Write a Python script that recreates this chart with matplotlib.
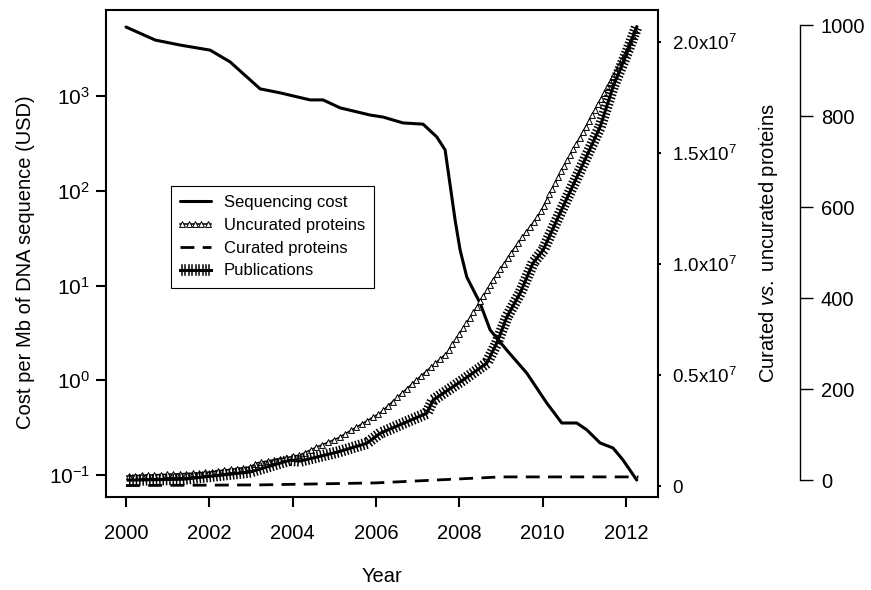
# Custo de sequenciamento vs. proteínas e publicações (eixos múltiplos)
import numpy as np
import matplotlib

matplotlib.use("Agg")
import matplotlib.pyplot as plt
from matplotlib import patheffects
from matplotlib.markers import MarkerStyle
from matplotlib.path import Path
from matplotlib.ticker import FixedLocator, NullLocator
from matplotlib.transforms import Affine2D, IdentityTransform

plt.rcParams["font.family"] = ["Liberation Sans", "DejaVu Sans"]
plt.rcParams["mathtext.fontset"] = "custom"
plt.rcParams["mathtext.rm"] = "Liberation Sans"
plt.rcParams["mathtext.it"] = "Liberation Sans:italic"
plt.rcParams["font.size"] = 14.5

# --- dados ---
cost_years = [2000.00, 2000.70, 2001.30, 2002.02, 2002.50, 2003.22, 2003.70, 2004.42,
              2004.73, 2005.14, 2005.86, 2006.17, 2006.65, 2007.13, 2007.46, 2007.66,
              2007.78, 2007.90, 2008.02, 2008.18, 2008.50, 2008.74, 2009.14, 2009.62,
              2010.10, 2010.46, 2010.82, 2011.06, 2011.38, 2011.69, 2011.93, 2012.26]
cost_usd = [5350, 3900, 3450, 3050, 2290, 1190, 1080, 910,
            910, 750, 630, 600, 520, 505, 370, 270,
            115, 49, 23.7, 12.3, 6.5, 3.4, 2.08, 1.19,
            0.575, 0.354, 0.354, 0.30, 0.218, 0.193, 0.144, 0.0885]

uncur_years = [2000.02, 2001.78, 2002.02, 2002.98, 2003.14, 2003.94, 2004.18, 2004.58,
               2005.09, 2006.10, 2006.89, 2007.70, 2008.42, 2008.81, 2009.29, 2009.94,
               2010.42, 2010.90, 2011.38, 2011.78, 2012.17, 2012.26]
uncur_prot = [0.045e7, 0.059e7, 0.063e7, 0.086e7, 0.104e7, 0.131e7, 0.140e7, 0.176e7,
              0.216e7, 0.329e7, 0.464e7, 0.599e7, 0.806e7, 0.928e7, 1.063e7, 1.230e7,
              1.410e7, 1.572e7, 1.739e7, 1.874e7, 2.023e7, 2.068e7]

cur_years = [2000.0, 2003.2, 2006.0, 2008.0, 2009.0, 2012.3]
cur_prot = [0.002e7, 0.005e7, 0.014e7, 0.032e7, 0.041e7, 0.041e7]

pub_years = [2000.05, 2001.37, 2002.98, 2003.94, 2004.18, 2005.09, 2005.78, 2006.10,
             2007.22, 2007.37, 2008.09, 2008.66, 2008.90, 2009.14, 2009.46, 2009.77,
             2010.01, 2010.42, 2010.90, 2011.38, 2011.69, 2012.02, 2012.26]
pub_count = [0, 2, 18, 44, 42, 62, 81, 103,
             147, 176, 220, 257, 301, 358, 411, 477,
             505, 587, 681, 776, 864, 938, 996]

year_ticks = [2000, 2002, 2004, 2006, 2008, 2010, 2012]
cost_ticks = [0.1, 1, 10, 100, 1000]
cost_labels = ["10$^{-1}$", "10$^{0}$", "10$^{1}$", "10$^{2}$", "10$^{3}$"]
prot_ticks = [0, 0.5e7, 1.0e7, 1.5e7, 2.0e7]
prot_labels = ["0", "0.5x10$^{7}$", "1.0x10$^{7}$", "1.5x10$^{7}$", "2.0x10$^{7}$"]
pub_ticks = [0, 200, 400, 600, 800, 1000]


class MarkerStroke(patheffects.AbstractPathEffect):
    """Desenha marcadores espaçados regularmente ao longo do traço."""

    def __init__(self, marker="^", size=5.0, spacing=6.0, lw=0.8):
        super().__init__()
        self._marker = MarkerStyle(marker)
        self._size = size
        self._spacing = spacing
        self._lw = lw

    def draw_path(self, renderer, gc, tpath, affine, rgbFace=None):
        verts = affine.transform(tpath.vertices)
        if len(verts) < 2:
            return
        seg = np.hypot(*np.diff(verts, axis=0).T)
        dist = np.concatenate([[0], np.cumsum(seg)])
        step = renderer.points_to_pixels(self._spacing)
        s = np.arange(step * 0.3, dist[-1], step)
        pts = np.column_stack([np.interp(s, dist, verts[:, 0]), np.interp(s, dist, verts[:, 1])])
        mtrans = self._marker.get_transform() + Affine2D().scale(renderer.points_to_pixels(self._size))
        gc0 = renderer.new_gc()
        gc0.copy_properties(gc)
        gc0.set_linewidth(self._lw)
        gc0.set_dashes(0, None)
        renderer.draw_markers(gc0, self._marker.get_path(), mtrans, Path(pts), IdentityTransform(), (1, 1, 1))
        gc0.restore()


fig = plt.figure(figsize=(8.71, 5.90), dpi=100)
ax = fig.add_axes([106 / 871, 1 - 497 / 590, 552 / 871, 487 / 590])
ax2 = ax.twinx()
ax3 = ax.twinx()

# eixo esquerdo: custo (log)
(l_cost,) = ax.plot(cost_years, cost_usd, color="black", lw=2.2, solid_capstyle="round",
                    solid_joinstyle="round", label="Sequencing cost")
ax.set_yscale("log")
ax.set_ylim(10 ** -1.232, 10 ** 3.908)
ax.set_xlim(1999.52, 2012.77)
ax.yaxis.set_major_locator(FixedLocator(cost_ticks))
ax.yaxis.set_minor_locator(NullLocator())
ax.set_yticklabels(cost_labels, fontsize=15)
ax.set_xticks(year_ticks)
ax.set_xticklabels([str(y) for y in year_ticks], fontsize=14.5)
ax.tick_params(axis="both", length=7.5, width=1.5)
ax.tick_params(axis="x", pad=12)
ax.tick_params(axis="y", pad=4)
for side in ["left", "right", "top", "bottom"]:
    ax.spines[side].set_linewidth(1.5)

# eixo do meio: proteínas
(l_unc,) = ax2.plot(uncur_years, uncur_prot, color="black", lw=1.1, solid_joinstyle="round",
                    label="Uncurated proteins",
                    path_effects=[patheffects.Normal(), MarkerStroke("^", size=4.2, spacing=4.6, lw=0.7)])
(l_cur,) = ax2.plot(cur_years, cur_prot, color="black", lw=2.0, dashes=(5, 3), label="Curated proteins")
ax2.set_ylim(-0.0495e7, 2.144e7)
ax2.set_yticks(prot_ticks)
ax2.set_yticklabels(prot_labels, fontsize=13.5)
ax2.tick_params(axis="y", length=2, width=1.5, pad=8)
for side in ["left", "right", "top", "bottom"]:
    ax2.spines[side].set_visible(False)

# eixo externo: publicações
(l_pub,) = ax3.plot(pub_years, pub_count, color="black", lw=2.2, solid_joinstyle="round", label="Publications",
                    path_effects=[patheffects.Normal(),
                                  patheffects.TickedStroke(spacing=2.4, angle=90, length=1.5, linewidth=1.1),
                                  patheffects.TickedStroke(spacing=2.4, angle=-90, length=1.5, linewidth=1.1)])
ax3.set_ylim(-37, 1033)
ax3.set_yticks(pub_ticks)
ax3.set_yticklabels([str(v) for v in pub_ticks], fontsize=14)
for side in ["left", "top", "bottom"]:
    ax3.spines[side].set_visible(False)
ax3.spines["right"].set_position(("axes", 1 + 142 / 552))
ax3.spines["right"].set_bounds(0, 1000)
ax3.spines["right"].set_linewidth(1.0)
ax3.tick_params(axis="y", length=9, width=1.0, pad=6)

fig.text(26 / 871, 1 - 262 / 590, "Cost per Mb of DNA sequence (USD)",
         rotation=90, ha="center", va="center", fontsize=14.5)
fig.text(382 / 871, 1 - 577 / 590, "Year", ha="center", va="center", fontsize=14.5)
fig.text(768 / 871, 1 - 243 / 590, r"Curated $\mathit{vs.}$ uncurated proteins",
         rotation=90, ha="center", va="center", fontsize=14.5)

leg = ax3.legend([l_cost, l_unc, l_cur, l_pub],
                 ["Sequencing cost", "Uncurated proteins", "Curated proteins", "Publications"],
                 loc="upper left", bbox_to_anchor=(0.118, 0.639), borderaxespad=0,
                 fancybox=False, framealpha=1, edgecolor="black", handlelength=1.85,
                 handletextpad=0.75, labelspacing=0.47, borderpad=0.55, fontsize=12)
leg.get_frame().set_linewidth(0.8)

fig.savefig("out.png", dpi=100)
